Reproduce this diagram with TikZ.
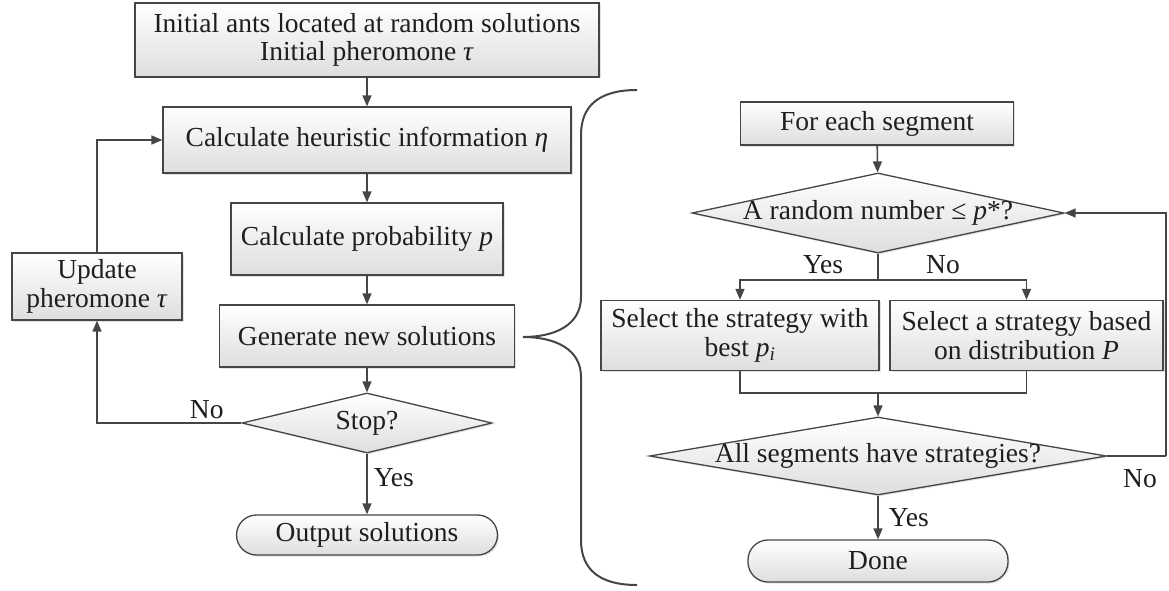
\documentclass[tikz,border=0pt]{standalone}
\usepackage{fontspec}
\setmainfont{Liberation Serif}
\usetikzlibrary{shapes.geometric,arrows.meta,shadows}
\definecolor{linec}{HTML}{454545}
\definecolor{txtc}{HTML}{1E1E1E}
\tikzset{
  base/.style={draw=linec, line width=1.3pt, top color=white, bottom color=black!13,
    drop shadow={shadow xshift=1.5pt, shadow yshift=-1.5pt, opacity=0.22},
    inner sep=0pt, text=txtc, align=center},
  procbox/.style={base, rectangle},
  decbox/.style={base, diamond},
  termbox/.style={base, rectangle, rounded corners=20pt},
  arr/.style={draw=linec, line width=1.6pt, -{Triangle[length=11pt,width=9pt]}},
  ln/.style={draw=linec, line width=1.6pt},
  lbl/.style={text=txtc, inner sep=0pt},
}
\begin{document}
\begin{tikzpicture}[x=1pt,y=-1pt,font=\fontsize{27.5}{28.5}\selectfont]
\useasboundingbox (0,0) rectangle (1169,591);
% left flow
\node[procbox, minimum width=464, minimum height=74] (init) at (367,40) {Initial ants located at random solutions\\Initial pheromone \textit{τ}};
\node[procbox, minimum width=408, minimum height=66] (heur) at (367,140) {Calculate heuristic information \textit{η}};
\node[procbox, minimum width=272, minimum height=72] (prob) at (367,239) {Calculate probability \textit{p}};
\node[procbox, minimum width=295, minimum height=62] (gen) at (367,336) {Generate new solutions};
\node[decbox, minimum width=250, minimum height=60] (stop) at (367,423) {\makebox[0pt]{Stop?}};
\node[termbox, minimum width=261, minimum height=40] (out) at (367,535) {Output solutions};
\node[procbox, minimum width=170, minimum height=67] (upd) at (97,286.5) {Update\\pheromone \textit{τ}};
\draw[arr] (init) -- (heur);
\draw[arr] (heur) -- (prob);
\draw[arr] (prob) -- (gen);
\draw[arr] (gen) -- (stop);
\draw[arr] (stop) -- (out) node[lbl, pos=0.4, anchor=west, xshift=6pt] (yesl) {Yes};
\draw[arr] (stop.west) -| (upd.south) node[lbl, pos=0.12, anchor=south, yshift=3pt] (nol) {No};
\draw[arr] (upd.north) |- (heur.west);
% brace
\draw[linec, line width=2pt] (637,90) .. controls (600,90) and (581,105) .. (581,135) -- (581,297) .. controls (581,325) and (555,337) .. (523,337) .. controls (555,337) and (581,349) .. (581,377) -- (581,540) .. controls (581,570) and (600,585) .. (637,585);
% right flow
\node[procbox, minimum width=273, minimum height=43] (seg) at (877,123.5) {For each segment};
\node[decbox, minimum width=372, minimum height=80] (rnd) at (878,213) {\makebox[0pt]{A random number ≤ \textit{p}*?}};
\node[procbox, minimum width=278, minimum height=70] (sel1) at (740,335.5) {Select the strategy with\\best \textit{p\textsubscript{i}}};
\node[procbox, minimum width=273, minimum height=70] (sel2) at (1026.5,335.5) {Select a strategy based\\on distribution \textit{P}};
\node[decbox, minimum width=457, minimum height=78] (all) at (878,456) {\makebox[0pt]{All segments have strategies?}};
\node[termbox, minimum width=260, minimum height=42] (done) at (878,561) {Done};
\coordinate (sp) at (878,280);
\coordinate (mg) at (878,393);
\coordinate (rt) at (1166,456);
\draw[arr] (seg) -- (rnd);
\draw[ln] (rnd.south) -- (sp);
\draw[arr] (sp) -| (sel1.north);
\draw[arr] (sp) -| (sel2.north);
\node[lbl] (yes1) at (823,265) {Yes};
\node[lbl] (no1) at (943,265) {No};
\draw[ln] (sel1.south) |- (mg) -| (sel2.south);
\draw[arr] (mg) -- (all.north);
\draw[arr] (all.south) -- (done.north) node[lbl, pos=0.5, anchor=west, xshift=10pt] (yes2) {Yes};
\draw[ln] (all.east) -- (rt);
\draw[arr] (rt) |- (rnd.east);
\node[lbl] (no2) at (1140,479) {No};
\end{tikzpicture}
\end{document}
